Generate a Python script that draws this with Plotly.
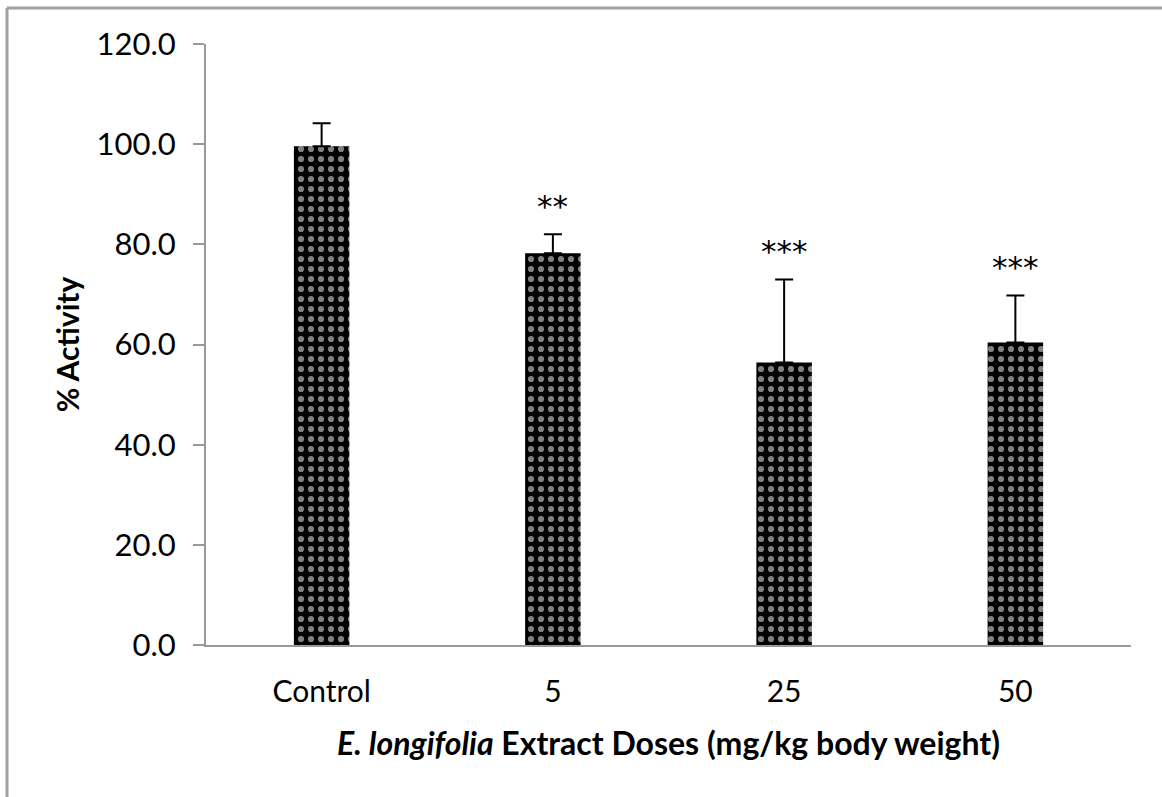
import plotly.graph_objects as go

categories = ["Control", "5", "25", "50"]
activity = [99.6, 78.2, 56.4, 60.4]
error_up = [4.6, 3.8, 16.6, 9.4]
significance = ["", "**", "***", "***"]
y_ticks = [0, 20, 40, 60, 80, 100, 120]

W, H = 1162, 797
ml, mr, mt, mb = 206, 31, 44, 152
pw, ph = W - ml - mr, H - mt - mb

fig = go.Figure()
fig.add_trace(go.Bar(
    x=categories, y=activity, width=0.24,
    marker=dict(color="black", line=dict(width=0),
                pattern=dict(shape=".", fgcolor="white", bgcolor="black",
                             size=10, solidity=0.3, fillmode="overlay")),
    error_y=dict(type="data", symmetric=False, array=error_up,
                 arrayminus=[0] * len(error_up), color="black",
                 thickness=2, width=9),
    showlegend=False,
))

for i, (v, e, s) in enumerate(zip(activity, error_up, significance)):
    if s:
        fig.add_annotation(x=i, y=v + e, text=s, showarrow=False,
                           yanchor="bottom", yshift=8,
                           font=dict(family="DejaVu Sans", size=31, color="black"))

def px_x(p):
    return (p - ml) / pw

def px_y(p):
    return (H - mb - p) / ph

line_col = "#a0a0a0"
fig.add_shape(type="line", xref="paper", yref="paper",
              x0=px_x(7), x1=px_x(7), y0=px_y(8), y1=px_y(820),
              line=dict(color=line_col, width=3))
fig.add_shape(type="line", xref="paper", yref="paper",
              x0=px_x(7), x1=px_x(1200), y0=px_y(8), y1=px_y(8),
              line=dict(color=line_col, width=3))

fig.update_layout(
    width=W, height=H,
    margin=dict(l=ml, r=mr, t=mt, b=mb, pad=0),
    paper_bgcolor="white", plot_bgcolor="white",
    font=dict(family="Lato", color="black"),
    xaxis=dict(
        type="category", automargin=False, tickangle=0,
        range=[-0.5, len(categories) - 0.5],
        showline=True, linecolor="#999999", linewidth=2,
        ticks="", showgrid=False, ticklabelstandoff=19,
        tickfont=dict(family="Lato", size=30, color="black"),
        title=dict(text="<b><i>E. longifolia</i> Extract Doses (mg/kg body weight)</b>",
                   font=dict(family="Lato", size=32, color="black"),
                   standoff=26),
    ),
    yaxis=dict(
        range=[0, 120], tickvals=y_ticks, tickformat=".1f", automargin=False,
        showline=True, linecolor="#999999", linewidth=2,
        ticks="outside", ticklen=11, tickwidth=2, tickcolor="#999999",
        showgrid=False, zeroline=False, ticklabelstandoff=11,
        tickfont=dict(family="Lato", size=31, color="black"),
        title=dict(text="<b>% Activity</b>",
                   font=dict(family="Lato", size=30, color="black"),
                   standoff=8),
    ),
)

fig.write_html("out.html")
